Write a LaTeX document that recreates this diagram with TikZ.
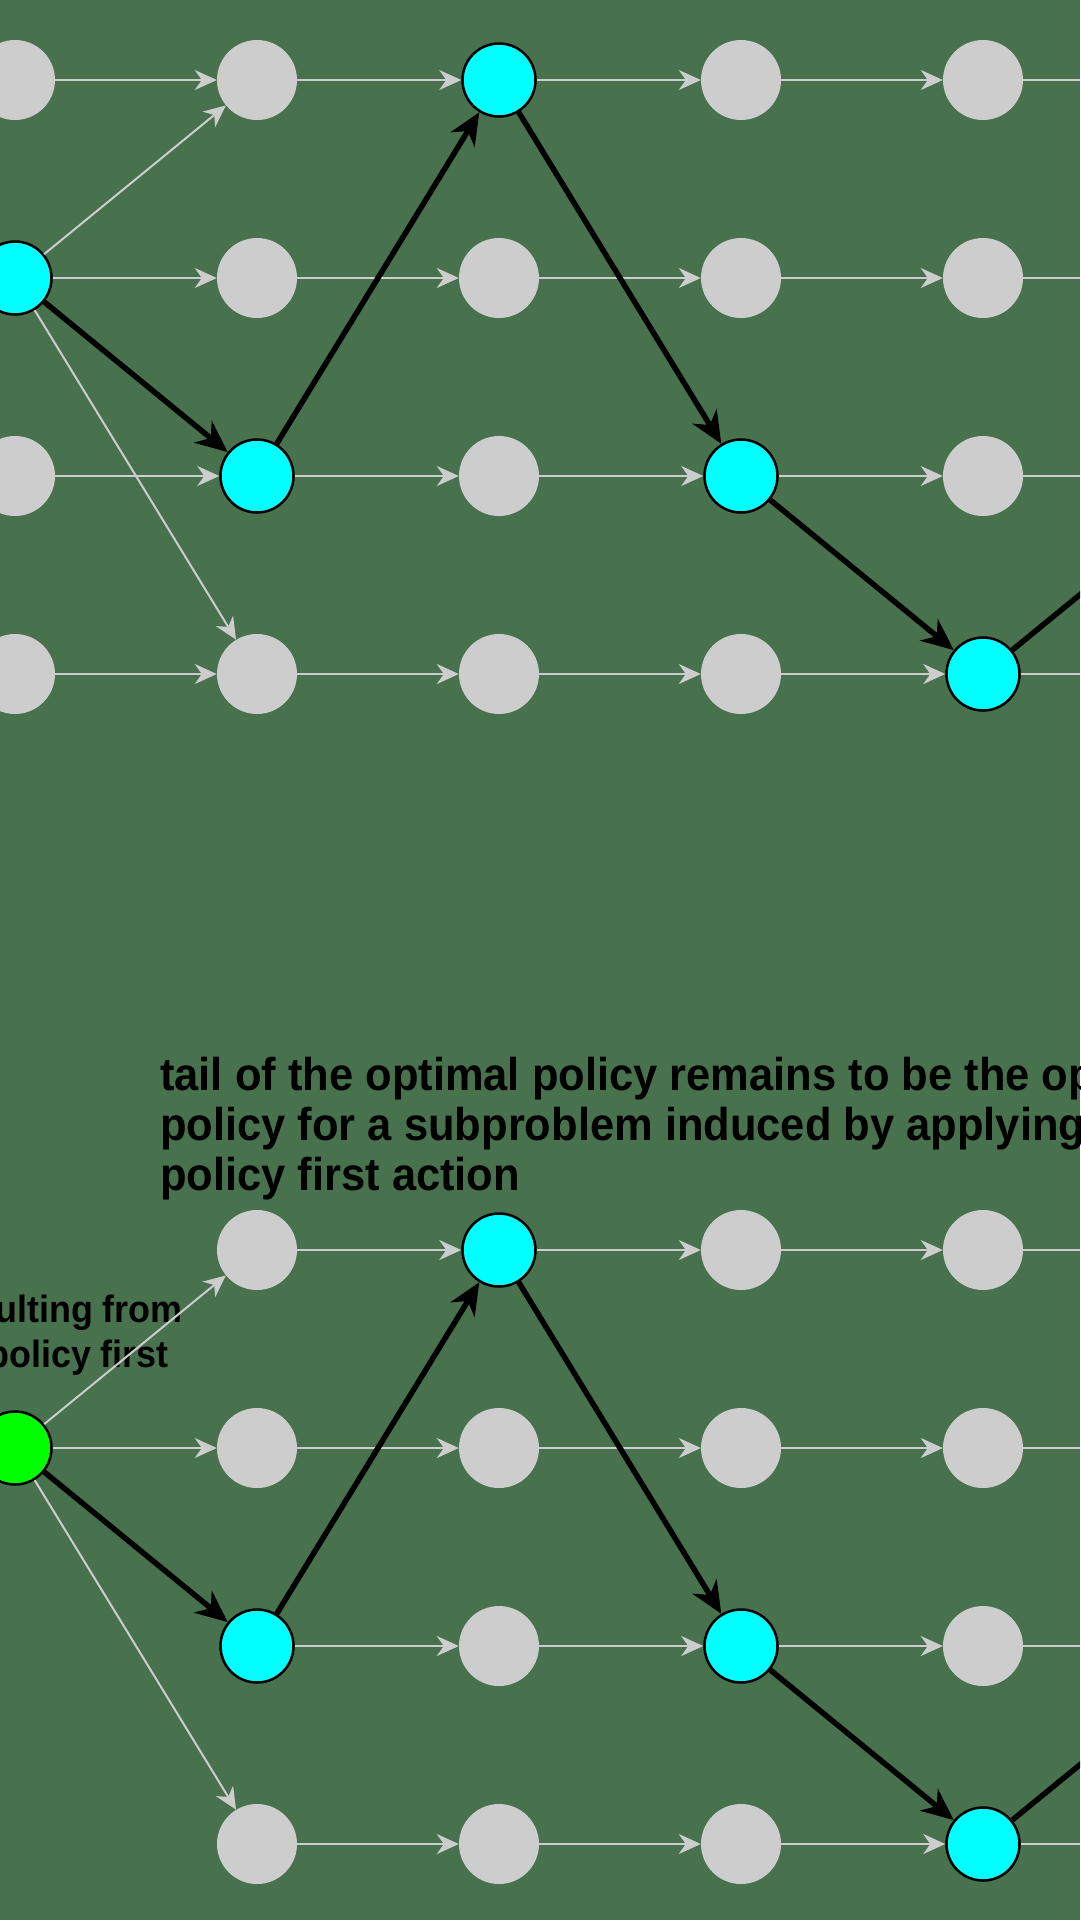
\documentclass[tikz,border=0pt]{standalone}
\usepackage{fontspec}
\usepackage{tikz}
\usetikzlibrary{arrows.meta}
\newfontfamily\capfont[FakeStretch=0.945]{Liberation Sans}
\definecolor{PolBg}{HTML}{48724D}
\definecolor{PolGray}{HTML}{CDCDCD}
\definecolor{PolCyan}{HTML}{00FFFF}
\definecolor{PolGreen}{HTML}{00FF00}
\tikzset{
  state/.style={circle,fill=PolGray,minimum size=80pt,inner sep=0pt},
  best/.style={circle,fill=PolCyan,draw=black,line width=2.5pt,minimum size=73pt,inner sep=0pt},
  start/.style={best,fill=PolGreen},
  move/.style={draw=PolGray,line width=2pt,-{Stealth[length=22pt,width=20pt,inset=7pt,fill=PolGray]}},
  optmove/.style={draw=black,line width=5.5pt,-{Stealth[length=32pt,width=28pt,inset=10pt]}},
  caption/.style={font=\capfont\bfseries\fontsize{46}{50}\selectfont,text=black,inner sep=0pt},
  subcap/.style={font=\capfont\bfseries\fontsize{38}{46}\selectfont,text=black,inner sep=0pt}
}

\begin{document}
\begin{tikzpicture}[x=1pt,y=-1pt]
\fill[PolBg] (0,0) rectangle (1080,1920);
\useasboundingbox (0,0) rectangle (1080,1920);
\clip (0,0) rectangle (1080,1920);
% texts of the lower panel
\node[caption,anchor=base west,align=left] (tail) at (160,1190) {tail of the optimal policy remains to be the optimal\\policy for a subproblem induced by applying optimal\\policy first action};
\node[subcap,anchor=base east] (from) at (183,1322) {resulting from};
\node[subcap,anchor=base east] (first) at (169,1367) {policy first};
% upper panel: states
\foreach \r/\y/\cols in {1/80/{0,1,3,4},2/278/{1,2,3,4},3/476/{0,2,4},4/674/{0,1,2,3}}
  \foreach \c in \cols \node[state] (a\r\c) at (15+242*\c,\y) {};
\node[best] (a20) at (15,278) {};
\node[best] (a31) at (257,476) {};
\node[best] (a12) at (499,80) {};
\node[best] (a33) at (741,476) {};
\node[best] (a44) at (983,674) {};
\foreach \r/\y in {1/80,2/278,3/476,4/674} \coordinate (a\r5) at (1225,\y);
% lower panel: states
\foreach \r/\y/\cols in {1/1250/{1,3,4},2/1448/{1,2,3,4},3/1646/{2,4},4/1844/{1,2,3}}
  \foreach \c in \cols \node[state] (b\r\c) at (15+242*\c,\y) {};
\node[start] (b20) at (15,1448) {};
\node[best] (b31) at (257,1646) {};
\node[best] (b12) at (499,1250) {};
\node[best] (b33) at (741,1646) {};
\node[best] (b44) at (983,1844) {};
\foreach \r/\y in {1/1250,2/1448,3/1646,4/1844} \coordinate (b\r5) at (1225,\y);
% transitions
\foreach \r in {1,2,3,4}
  \foreach \c in {0,...,4} {\pgfmathtruncatemacro\n{\c+1}\draw[move] (a\r\c) -- (a\r\n);}
\foreach \r/\s in {1/1,2/0,3/1,4/1}
  \foreach \c in {\s,...,4} {\pgfmathtruncatemacro\n{\c+1}\draw[move] (b\r\c) -- (b\r\n);}
\draw[move] (a20) -- (a11);
\draw[move] (a20) -- (a41);
\draw[move] (b20) -- (b11);
\draw[move] (b20) -- (b41);
% optimal policy
\draw[optmove] (a20) -- (a31);
\draw[optmove] (a31) -- (a12);
\draw[optmove] (a12) -- (a33);
\draw[optmove] (a33) -- (a44);
\draw[optmove] (a44) -- (a35);
\draw[optmove] (b20) -- (b31);
\draw[optmove] (b31) -- (b12);
\draw[optmove] (b12) -- (b33);
\draw[optmove] (b33) -- (b44);
\draw[optmove] (b44) -- (b35);
\end{tikzpicture}
\end{document}
